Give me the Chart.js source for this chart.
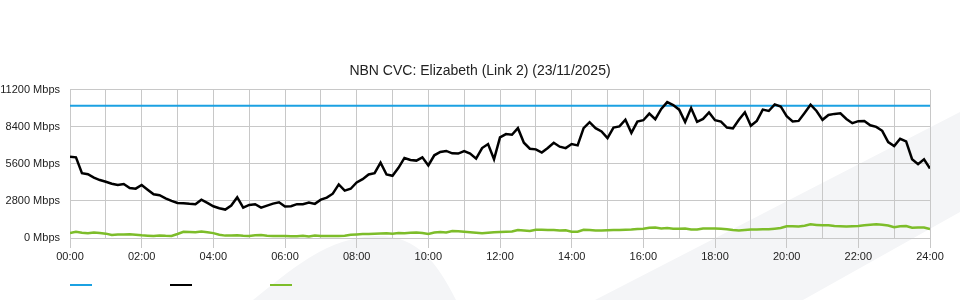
<!DOCTYPE html>
<html>
<head>
<meta charset="utf-8">
<title>NBN CVC: Elizabeth (Link 2)</title>
<script src="https://cdn.jsdelivr.net/npm/chart.js@4.4.1/dist/chart.umd.min.js"></script>
<style>
  html, body { margin: 0; padding: 0; background: #fff; }
  #wrap {
    position: relative;
    width: 960px;
    height: 300px;
    background: url("data:image/svg+xml,%3Csvg xmlns='http://www.w3.org/2000/svg' width='960' height='300'%3E%3Cpath fill='%23f4f5f7' d='M595 300L960 112L960 212L803 300Z M253 300C300 262 330 238 375 236C410 235 432 252 456 300Z'/%3E%3C/svg%3E") no-repeat;
  }
</style>
</head>
<body>
<div id="wrap"><canvas id="cvcChart" width="960" height="300"></canvas></div>
<script>
// samples every 10 minutes, 00:00 .. 24:00 (Mbps)
var STEP_MIN = 10;

var capacityTimes = [0, 1440];
var capacityVals = [10000, 10000];

var usedVals = [
  6150, 6100, 4900, 4820, 4560, 4380, 4250, 4100, 4000, 4080, 3780, 3730, 4010, 3650, 3300, 3230, 3000, 2800, 2650, 2620, 2580,
  2560, 2900, 2650, 2400, 2250, 2150, 2450, 3080, 2300, 2500, 2550, 2300, 2450, 2600, 2700, 2380, 2400, 2560, 2560, 2680, 2580,
  2900, 3050, 3350, 4050, 3580, 3720, 4200, 4450, 4800, 4900, 5700, 4800, 4700, 5300, 6050, 5900, 5850, 6100, 5480, 6250, 6500,
  6580, 6400, 6380, 6560, 6380, 6000, 6800, 7100, 5950, 7600, 7850, 7800, 8300, 7200, 6750, 6700, 6460, 6800, 7200, 6900, 6790,
  7100, 7000, 8300, 8750, 8300, 8050, 7550, 8350, 8430, 8940, 7950, 8800, 8900, 9400, 8980, 9750, 10270, 10050, 9700, 8760, 9820,
  8780, 9000, 9490, 8900, 8800, 8350, 8280, 8940, 9500, 8480, 8850, 9700, 9600, 10100, 9940, 9200, 8810, 8850, 9450, 10070, 9600,
  8930, 9300, 9380, 9420, 9000, 8680, 8830, 8850, 8520, 8400, 8100, 7250, 6950, 7500, 7300, 5950, 5580, 5950, 5250
];

var upVals = [
  380, 470, 400, 360, 420, 380, 330, 220, 270, 260, 290, 250, 200, 170, 150, 190, 170, 160, 300, 470, 460,
  440, 490, 440, 370, 250, 180, 190, 200, 170, 160, 210, 220, 170, 160, 150, 150, 130, 140, 170, 120, 180,
  150, 150, 160, 160, 170, 250, 270, 300, 300, 330, 340, 350, 330, 370, 360, 400, 420, 380, 300, 410, 450,
  420, 520, 510, 470, 430, 400, 360, 400, 430, 450, 470, 490, 600, 560, 530, 620, 620, 600, 600, 560, 580,
  480, 470, 620, 600, 560, 560, 580, 600, 600, 620, 640, 680, 700, 770, 790, 720, 760, 700, 700, 720, 640,
  650, 720, 720, 710, 700, 660, 600, 560, 600, 650, 650, 660, 660, 700, 750, 880, 880, 870, 920, 1030, 990,
  960, 960, 900, 880, 860, 880, 900, 960, 1000, 1030, 1000, 950, 820, 880, 900, 780, 790, 790, 680
];

var xTickLabels = ['00:00', '02:00', '04:00', '06:00', '08:00', '10:00', '12:00',
                   '14:00', '16:00', '18:00', '20:00', '22:00', '24:00'];

var gridCol = '#c8c8c8';
var fontFam = '"Liberation Sans", Arial, sans-serif';

function toPoints(times, vals) {
  return vals.map(function (v, i) { return { x: times[i], y: v }; });
}
var sampleTimes = usedVals.map(function (v, i) { return i * STEP_MIN; });

// simple line-only legend under the plot (no text in the original)
var lineLegend = {
  id: 'lineLegend',
  afterDraw: function (chart) {
    var ctx = chart.ctx;
    var x0 = chart.chartArea.left;
    ctx.save();
    chart.data.datasets.forEach(function (ds, i) {
      ctx.strokeStyle = ds.borderColor;
      ctx.lineWidth = 2;
      ctx.beginPath();
      ctx.moveTo(x0 + i * 100, 285);
      ctx.lineTo(x0 + i * 100 + 22, 285);
      ctx.stroke();
    });
    ctx.restore();
  }
};

var myChart = new Chart(document.getElementById('cvcChart'), {
  type: 'line',
  data: {
    datasets: [{
      label: '',
      data: toPoints(capacityTimes, capacityVals),
      borderColor: '#1ba1e2',
      borderWidth: 2,
      pointRadius: 0,
      order: 2
    }, {
      label: '',
      data: toPoints(sampleTimes, usedVals),
      borderColor: '#000000',
      borderWidth: 2.5,
      pointRadius: 0,
      order: 0
    }, {
      label: '',
      data: toPoints(sampleTimes, upVals),
      borderColor: '#7dbd2a',
      borderWidth: 2.5,
      pointRadius: 0,
      order: 1
    }]
  },
  options: {
    responsive: false,
    animation: false,
    layout: { padding: { left: 0, right: 0, top: 0, bottom: 37 } },
    plugins: {
      legend: { display: false },
      tooltip: { enabled: false },
      title: {
        display: true,
        text: 'NBN CVC: Elizabeth (Link 2) (23/11/2025)',
        color: '#222',
        font: { family: fontFam, size: 14, weight: 'normal' },
        padding: { top: 63, bottom: 10 }
      }
    },
    scales: {
      x: {
        type: 'linear',
        min: 0,
        max: 1440,
        grid: {
          color: gridCol,
          tickLength: 10,
          tickColor: function (c) {
            return c.tick && c.tick.value % 120 === 0 ? gridCol : 'rgba(0,0,0,0)';
          }
        },
        border: { color: gridCol },
        ticks: {
          stepSize: 60,
          autoSkip: false,
          maxRotation: 0,
          padding: 2,
          color: '#222',
          font: { family: fontFam, size: 11 },
          callback: function (v) {
            return v % 120 === 0 ? xTickLabels[v / 120] : '';
          }
        },
        afterFit: function (s) { s.height = 25; }
      },
      y: {
        min: 0,
        max: 11200,
        grid: { color: gridCol, drawTicks: false },
        border: { color: gridCol },
        ticks: {
          stepSize: 2800,
          padding: 10,
          color: '#222',
          font: { family: fontFam, size: 11 },
          callback: function (v) { return v + ' Mbps'; }
        },
        afterFit: function (s) { s.width = 70; }
      },
      // empty right-hand gutter so the title stays centred on the canvas
      gutter: {
        position: 'right',
        min: 0,
        max: 1,
        grid: { drawOnChartArea: false, drawTicks: false },
        border: { display: false },
        ticks: { display: false },
        afterFit: function (s) { s.width = 30; }
      }
    }
  },
  plugins: [lineLegend]
});
</script>
</body>
</html>
